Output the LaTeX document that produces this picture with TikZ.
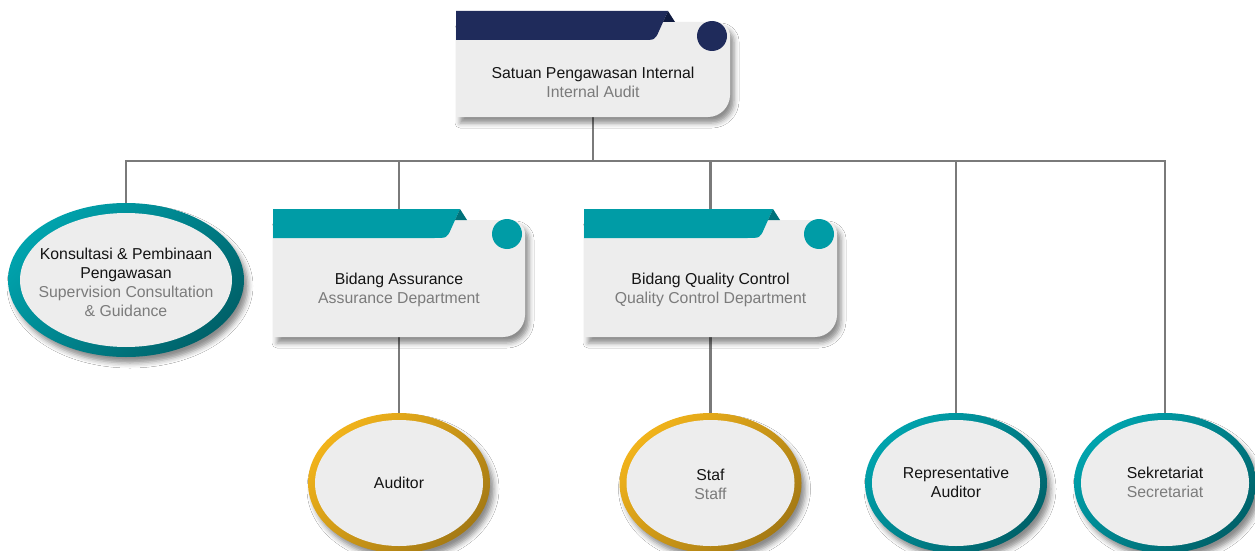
\documentclass[tikz,border=0pt]{standalone}
\usepackage{fontspec}
\setmainfont{Liberation Sans}
\usetikzlibrary{shapes.geometric,shadows.blur}
\pgfdeclarelayer{bg}
\pgfsetlayers{bg,main}
\definecolor{cnavy}{HTML}{1F2B5B}
\definecolor{cnavyd}{HTML}{0F1A3F}
\definecolor{cteal}{HTML}{009CA6}
\definecolor{ctealdk}{HTML}{00727A}
\definecolor{ctealr}{HTML}{00A3AD}
\definecolor{ctealrd}{HTML}{00626A}
\definecolor{cgold}{HTML}{F1B31B}
\definecolor{cgoldm}{HTML}{E6A814}
\definecolor{cgoldd}{HTML}{A57A14}
\definecolor{cardbg}{HTML}{EDEDED}
\definecolor{txtblack}{HTML}{141414}
\definecolor{txtgray}{HTML}{7B7B7B}
\definecolor{linegray}{HTML}{7A7A7A}
\tikzset{
  conn/.style={draw=linegray, line width=2.4pt},
  softshadow/.style={blur shadow={shadow xshift=4pt, shadow yshift=-6pt, shadow blur radius=5pt, shadow opacity=45}},
  cardnode/.style={inner sep=0pt, outer sep=0pt},
  label/.style={align=center, inner sep=0pt, text=txtblack, font=\fontsize{15.8}{19}\selectfont},
  tealring/.style={ellipse, inner sep=0pt, outer sep=0pt, top color=ctealr, middle color=cteal, bottom color=ctealrd, shading angle=45, softshadow},
  goldring/.style={ellipse, inner sep=0pt, outer sep=0pt, top color=cgold, middle color=cgoldm, bottom color=cgoldd, shading angle=45, softshadow},
  inner/.style={ellipse, inner sep=0pt, fill=cardbg},
}
\newcommand\cardshape[7]{%
  \fill[cardbg, softshadow] (#1,#2) -- ({#3-14},#2) .. controls ({#3-6},#2) and (#3,{#2+6}) .. (#3,{#2+14})
    -- (#3,{#4-22}) .. controls (#3,{#4-10}) and ({#3-10},#4) .. ({#3-22},#4) -- (#1,#4) -- cycle;
  \fill[#6] (#1,{#2-11}) -- (#5,{#2-11}) -- ({#5-9},{#2+9}) .. controls ({#5-13},{#2+18}) .. ({#5-26},{#2+18})
    -- (#1,{#2+18}) -- cycle;
  \fill[#7] (#5,{#2-11}) -- ({#5+7},#2) -- ({#5-5},#2) -- cycle;
  \fill[#6] ({#3-18},{#2+14}) circle[radius=15pt];
}
\begin{document}
\begin{tikzpicture}[x=1pt, y=-1pt]
\useasboundingbox (0,0) rectangle (1255,551);

% cards
\cardshape{456}{22}{730}{117}{668}{cnavy}{cnavyd}
\node[cardnode, minimum width=274pt, minimum height=95pt] (ia) at (593,69.5) {};
\node[label] (iatxt) at (593,82) {Satuan Pengawasan Internal\\\textcolor{txtgray}{Internal Audit}};

\cardshape{273}{220}{525}{337}{460}{cteal}{ctealdk}
\node[cardnode, minimum width=252pt, minimum height=117pt] (ba) at (399,278.5) {};
\node[label] (batxt) at (399,289.5) {Bidang Assurance\\\textcolor{txtgray}{Assurance Department}};

\cardshape{584}{220}{837}{337}{773}{cteal}{ctealdk}
\node[cardnode, minimum width=253pt, minimum height=117pt] (qc) at (710.5,278.5) {};
\node[label] (qctxt) at (710.5,289.5) {Bidang Quality Control\\\textcolor{txtgray}{Quality Control Department}};

% ellipses
\node[tealring, minimum width=236pt, minimum height=154pt] (kons) at (126,280) {};
\node[inner, minimum width=212pt, minimum height=134pt] (konsin) at (126,280) {};
\node[label] (konstxt) at (126,282) {Konsultasi \& Pembinaan\\Pengawasan\\\textcolor{txtgray}{Supervision Consultation}\\\textcolor{txtgray}{\& Guidance}};

\node[goldring, minimum width=182pt, minimum height=140pt] (aud) at (399,483) {};
\node[inner, minimum width=168pt, minimum height=126pt] (audin) at (399,483) {};
\node[label] (audtxt) at (399,483) {Auditor};

\node[goldring, minimum width=182pt, minimum height=140pt] (staf) at (710.5,483) {};
\node[inner, minimum width=168pt, minimum height=126pt] (stafin) at (710.5,483) {};
\node[label] (staftxt) at (710.5,484) {Staf\\\textcolor{txtgray}{Staff}};

\node[tealring, minimum width=182pt, minimum height=140pt] (rep) at (956,483) {};
\node[inner, minimum width=168pt, minimum height=126pt] (repin) at (956,483) {};
\node[label] (reptxt) at (956,482.5) {Representative\\Auditor};

\node[tealring, minimum width=182pt, minimum height=140pt] (sek) at (1165,483) {};
\node[inner, minimum width=168pt, minimum height=126pt] (sekin) at (1165,483) {};
\node[label] (sektxt) at (1165,482.5) {Sekretariat\\\textcolor{txtgray}{Secretariat}};

% connectors
\begin{pgfonlayer}{bg}
  \fill[white] (0,0) rectangle (1255,551);
  \coordinate (bus) at (593,161);
  \draw[conn] (ia.south) -- (bus);
  \draw[conn] (kons.north) |- (bus) -| (sek.north);
  \draw[conn] (bus -| ba.north) -- (ba.north);
  \draw[conn] (bus -| qc.north) -- (qc.north);
  \draw[conn] (bus -| rep.north) -- (rep.north);
  \draw[conn] (ba.south) -- (aud.north);
  \draw[conn] (qc.south) -- (staf.north);
\end{pgfonlayer}
\end{tikzpicture}
\end{document}
